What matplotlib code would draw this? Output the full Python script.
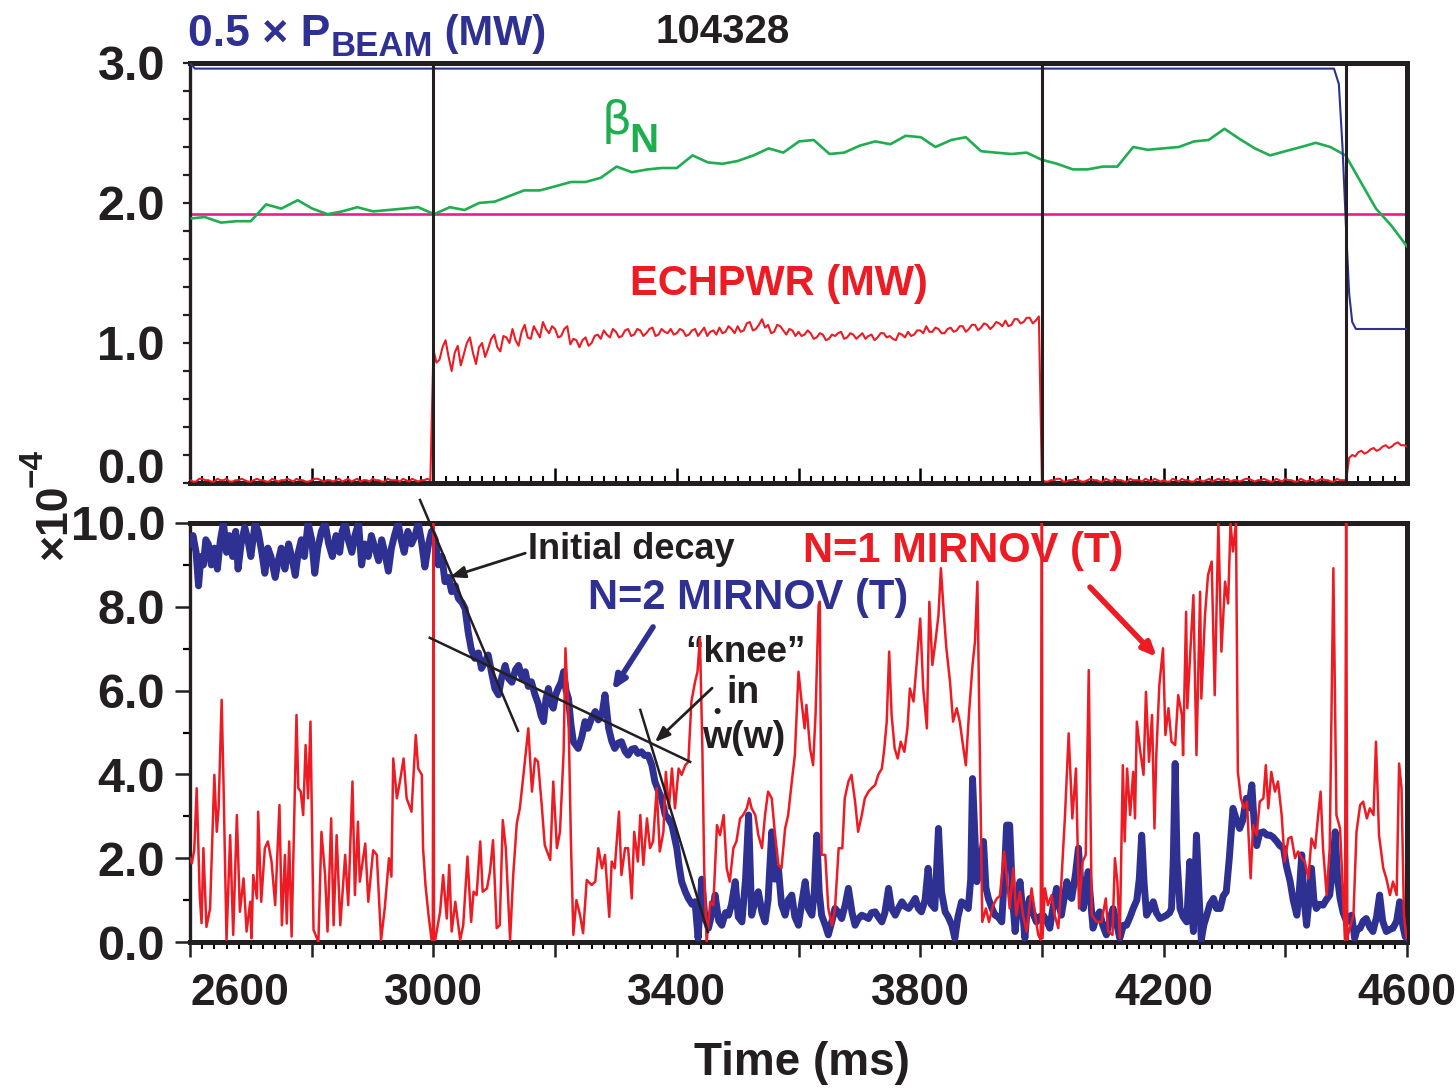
import os
import numpy as np
import matplotlib
matplotlib.use("Agg")
import matplotlib.pyplot as plt
from matplotlib import font_manager as fm
from matplotlib.font_manager import FontProperties
from matplotlib.ticker import MultipleLocator, FuncFormatter


def pick_font(prefs):
    files = [f.fname for f in fm.fontManager.ttflist]
    for pat in prefs:
        for fn in files:
            base = os.path.basename(fn).lower().replace('-', '').replace('_', '')
            if base.startswith(pat):
                return fn
    return None


BOLD_PATH = pick_font(['liberationsansnarrowbold.', 'liberationsansbold.',
                       'arimobold.', 'dejavusanscondensedbold.', 'dejavusansbold.'])


def fp(size):
    if BOLD_PATH:
        return FontProperties(fname=BOLD_PATH, size=size)
    return FontProperties(family='DejaVu Sans', weight='bold', size=size)


BLUE = '#2e3192'
GREEN = '#1fae4f'
RED = '#ed1c24'
MAGENTA = '#ec1c8c'
BLACK = '#231f20'

# ---------------- top panel data ----------------
beam_t = [2600, 2608, 4480, 4488, 4494, 4500, 4505, 4510, 4516, 4600]
beam_v = [3.0, 2.96, 2.96, 2.85, 2.4, 1.8, 1.35, 1.15, 1.10, 1.10]

betan_t = [2603, 2624, 2651, 2676, 2700, 2725, 2750, 2777, 2801, 2826, 2850, 2875,
           2901, 2926, 2951, 2975, 3001, 3027, 3051, 3075, 3101, 3125, 3149, 3175,
           3201, 3226, 3250, 3275, 3301, 3326, 3352, 3375, 3400, 3426, 3451, 3475,
           3500, 3526, 3551, 3575, 3601, 3625, 3651, 3675, 3701, 3726, 3751, 3776,
           3801, 3825, 3851, 3875, 3900, 3924, 3950, 3975, 3999, 4025, 4051, 4075,
           4100, 4124, 4150, 4174, 4199, 4225, 4250, 4274, 4300, 4324, 4350, 4375,
           4400, 4426, 4450, 4474, 4499, 4524, 4549, 4574, 4600]
betan_v = [1.89, 1.90, 1.86, 1.87, 1.87, 1.99, 1.96, 2.02, 1.96, 1.92, 1.94, 1.97,
           1.94, 1.95, 1.96, 1.97, 1.92, 1.97, 1.95, 2.00, 2.01, 2.05, 2.09, 2.09,
           2.12, 2.15, 2.15, 2.18, 2.26, 2.22, 2.24, 2.25, 2.25, 2.34, 2.29, 2.28,
           2.30, 2.34, 2.39, 2.36, 2.44, 2.45, 2.35, 2.36, 2.41, 2.44, 2.42, 2.48,
           2.47, 2.40, 2.45, 2.47, 2.37, 2.36, 2.35, 2.36, 2.31, 2.28, 2.24, 2.24,
           2.26, 2.26, 2.40, 2.38, 2.39, 2.40, 2.44, 2.45, 2.53, 2.46, 2.39, 2.34,
           2.37, 2.40, 2.43, 2.40, 2.34, 2.15, 1.96, 1.84, 1.69]

betan_ref = 1.92
event_times = [3000, 4000, 4500]

# ECH power sampled every 10 ms (2600..4600) plus the in-between 5 ms samples
ech_v = [0.02, 0.01, 0.03, 0.02, 0.01, 0.02, 0.03, 0.01, 0.02, 0.02,
         0.01, 0.03, 0.02, 0.01, 0.02, 0.02, 0.03, 0.01, 0.02, 0.01,
         0.02, 0.03, 0.01, 0.02, 0.02, 0.01, 0.03, 0.02, 0.01, 0.02,
         0.03, 0.02, 0.01, 0.02, 0.02, 0.03, 0.01, 0.02, 0.02, 0.03,
         0.95, 0.88, 1.02, 0.80, 0.98, 0.92, 1.04, 0.85, 1.00, 0.96,
         1.06, 0.94, 1.04, 1.10, 0.98, 1.13, 1.03, 1.08, 1.15, 1.07,
         1.10, 1.05, 1.12, 1.03, 0.97, 1.04, 1.00, 1.06, 1.09, 1.04,
         1.08, 1.05, 1.10, 1.06, 1.09, 1.07, 1.11, 1.06, 1.08, 1.10,
         1.07, 1.09, 1.06, 1.10, 1.08, 1.05, 1.09, 1.11, 1.08, 1.10,
         1.12, 1.09, 1.15, 1.10, 1.17, 1.13, 1.08, 1.12, 1.06, 1.09,
         1.08, 1.06, 1.07, 1.04, 1.06, 1.03, 1.05, 1.08, 1.04, 1.06,
         1.05, 1.03, 1.06, 1.04, 1.07, 1.05, 1.02, 1.06, 1.08, 1.06,
         1.09, 1.12, 1.08, 1.10, 1.07, 1.11, 1.09, 1.12, 1.10, 1.13,
         1.11, 1.13, 1.12, 1.14, 1.16, 1.13, 1.17, 1.15, 1.18, 1.16,
         0.02, 0.01, 0.02, 0.03, 0.01, 0.02, 0.02, 0.01, 0.03, 0.02,
         0.01, 0.02, 0.03, 0.02, 0.01, 0.02, 0.02, 0.03, 0.01, 0.02,
         0.02, 0.01, 0.02, 0.03, 0.02, 0.01, 0.02, 0.02, 0.01, 0.03,
         0.02, 0.01, 0.02, 0.02, 0.03, 0.01, 0.02, 0.02, 0.01, 0.02,
         0.03, 0.02, 0.01, 0.02, 0.02, 0.01, 0.03, 0.02, 0.01, 0.02,
         0.02, 0.20, 0.22, 0.21, 0.24, 0.23, 0.26, 0.25, 0.28, 0.27, 0.26]
ech_mid_v = [0.01, 0.03, 0.02, 0.01, 0.03, 0.02, 0.01, 0.02, 0.03, 0.01,
             0.02, 0.02, 0.01, 0.03, 0.01, 0.02, 0.02, 0.03, 0.02, 0.01,
             0.03, 0.02, 0.02, 0.01, 0.03, 0.02, 0.01, 0.03, 0.02, 0.01,
             0.02, 0.01, 0.03, 0.02, 0.01, 0.02, 0.03, 0.01, 0.02, 0.02,
             0.86, 0.97, 0.90, 0.93, 0.84, 1.00, 0.93, 0.97, 0.90, 1.03,
             0.97, 1.05, 1.00, 1.02, 1.08, 1.04, 1.12, 1.04, 1.10, 1.12,
             1.04, 1.10, 0.99, 1.02, 1.02, 0.98, 1.05, 1.03, 1.06, 1.10,
             1.04, 1.09, 1.05, 1.10, 1.05, 1.10, 1.05, 1.10, 1.07, 1.06,
             1.10, 1.05, 1.09, 1.05, 1.11, 1.08, 1.06, 1.07, 1.12, 1.07,
             1.08, 1.14, 1.09, 1.13, 1.11, 1.07, 1.13, 1.09, 1.10, 1.05,
             1.05, 1.09, 1.03, 1.07, 1.02, 1.06, 1.07, 1.03, 1.07, 1.03,
             1.07, 1.05, 1.02, 1.07, 1.04, 1.03, 1.07, 1.04, 1.05, 1.09,
             1.07, 1.08, 1.11, 1.07, 1.10, 1.08, 1.12, 1.08, 1.13, 1.09,
             1.14, 1.10, 1.15, 1.12, 1.12, 1.17, 1.14, 1.18, 1.14, 1.19,
             0.01, 0.02, 0.03, 0.01, 0.02, 0.03, 0.01, 0.02, 0.02, 0.01,
             0.03, 0.01, 0.02, 0.01, 0.03, 0.02, 0.01, 0.02, 0.03, 0.01,
             0.01, 0.03, 0.01, 0.02, 0.01, 0.03, 0.01, 0.03, 0.02, 0.02,
             0.03, 0.02, 0.01, 0.03, 0.02, 0.02, 0.03, 0.01, 0.03, 0.01,
             0.02, 0.01, 0.03, 0.01, 0.03, 0.02, 0.02, 0.01, 0.03, 0.02,
             0.18, 0.19, 0.23, 0.22, 0.25, 0.24, 0.27, 0.26, 0.29, 0.27]

# ---------------- bottom panel data (x 1e-4 T) ----------------
n2_t = [2600, 2605, 2610, 2614, 2618, 2622, 2626, 2630, 2635, 2640, 2645, 2650, 2655,
        2660, 2665, 2670, 2675, 2679, 2684, 2690, 2695, 2700, 2707, 2712, 2718, 2723,
        2728, 2733, 2740, 2745, 2750, 2756, 2762, 2767, 2773, 2778, 2783, 2788, 2794,
        2800, 2805, 2810, 2816, 2822, 2828, 2834, 2840, 2846, 2850, 2855, 2860, 2866,
        2871, 2877, 2882, 2887, 2893, 2898, 2904, 2910, 2915, 2920, 2926, 2931, 2936,
        2942, 2947, 2952, 2958, 2964, 2970, 2975, 2980, 2986, 2992, 2997,
        3003, 3008, 3014, 3019, 3025, 3030, 3036, 3041, 3047, 3052, 3057, 3062, 3068,
        3074, 3079, 3085, 3090, 3096, 3101, 3107, 3112, 3118, 3123, 3129, 3135, 3140,
        3146, 3151, 3156, 3161, 3167, 3172, 3177, 3181, 3185, 3189, 3193, 3197, 3201,
        3205, 3210, 3214, 3218, 3222, 3226, 3230, 3234, 3238, 3244, 3249, 3254, 3260,
        3266, 3271, 3277, 3282, 3288, 3293, 3298, 3304, 3309, 3315, 3320, 3326, 3331,
        3336, 3342, 3347, 3353, 3359, 3364, 3370, 3375, 3381, 3386, 3392, 3400, 3404,
        3408, 3414, 3419, 3425, 3430, 3435, 3441, 3446, 3452, 3458, 3463, 3469, 3474,
        3480, 3485, 3490, 3496, 3501, 3507, 3513, 3518, 3523, 3529, 3534, 3540, 3545,
        3550, 3556, 3561, 3567, 3572, 3578, 3583, 3589, 3594, 3600, 3605, 3611, 3616,
        3622, 3626, 3630, 3634, 3638, 3644, 3649, 3655, 3660, 3666, 3671, 3677, 3682,
        3688, 3693, 3698, 3704, 3710, 3715, 3720, 3726, 3731, 3737, 3742, 3748, 3753,
        3759, 3764, 3770, 3775, 3781, 3786, 3792, 3797, 3802, 3808, 3813, 3818, 3824,
        3830, 3835, 3841, 3846, 3852, 3857, 3862, 3868, 3874, 3879, 3883, 3886, 3890,
        3893, 3898, 3904, 3908, 3912, 3918, 3923, 3928, 3934, 3938, 3942, 3947, 3952,
        3956, 3960, 3964, 3968, 3972, 3976, 3980, 3985, 3991, 3996, 4002, 4008, 4013,
        4018, 4024, 4028, 4032, 4036, 4041, 4045, 4049, 4055, 4060, 4064, 4068, 4072,
        4076, 4080, 4084, 4090, 4095, 4100, 4106, 4111, 4117, 4122, 4128, 4134, 4139,
        4145, 4150, 4156, 4160, 4164, 4168, 4172, 4178, 4183, 4188, 4194, 4200, 4205,
        4210, 4213, 4216, 4219, 4222, 4227, 4232, 4238, 4243, 4246, 4249, 4254, 4258,
        4262, 4266, 4271, 4276, 4282, 4287, 4293, 4298, 4303, 4308, 4314, 4320, 4325,
        4330, 4336, 4340, 4345, 4349, 4353, 4358, 4364, 4370, 4375, 4380, 4386, 4391,
        4397, 4402, 4408, 4413, 4419, 4423, 4427, 4431, 4435, 4439, 4443, 4447, 4451,
        4456, 4462, 4467, 4473, 4478, 4482, 4486, 4490, 4495, 4501, 4505, 4509, 4514,
        4518, 4523, 4528, 4533, 4539, 4544, 4550, 4555, 4560, 4566, 4572, 4577, 4583,
        4588, 4593, 4597, 4600]
n2_v = [9.5, 9.7, 9.3, 8.5, 9.2, 9.0, 9.6, 9.5, 9.0, 9.4, 8.9, 9.6, 10.0,
        9.3, 9.7, 9.2, 9.8, 8.9, 9.5, 9.9, 9.6, 9.2, 10.0, 9.8, 9.3, 8.8,
        9.4, 9.2, 8.7, 9.1, 9.4, 8.9, 9.5, 9.2, 8.75, 9.3, 9.6, 9.2, 10.0,
        9.6, 8.8, 9.4, 9.8, 10.0, 9.5, 9.2, 9.7, 9.3, 9.8, 10.0, 9.6, 9.3,
        9.7, 10.0, 9.0, 9.5, 9.2, 9.7, 9.4, 9.1, 9.6, 9.3, 8.85, 9.4, 9.7,
        10.0, 9.6, 9.3, 9.8, 9.5, 9.7, 10.0, 9.6, 8.95, 9.5, 9.8,
        9.6, 9.0, 9.2, 8.6, 8.7, 8.36, 8.5, 8.2, 8.1, 7.96, 7.41, 7.0, 6.77,
        6.9, 6.53, 6.7, 6.85, 6.4, 6.05, 5.9, 6.3, 6.6, 6.3, 6.2, 6.5, 6.6,
        6.3, 6.45, 6.1, 6.21, 5.9, 5.7, 5.4, 5.26, 5.8, 6.05, 5.7, 5.58, 5.9,
        6.05, 6.2, 6.45, 6.0, 5.81, 5.2, 4.78, 4.7, 4.62, 4.9, 5.26, 5.1, 5.34,
        5.5, 5.3, 5.42, 5.9, 5.1, 4.8, 4.62, 4.75, 4.78, 4.55, 4.46, 4.6, 4.62,
        4.5, 4.54, 4.45, 4.46, 4.22, 3.83, 3.6, 3.43, 3.03, 2.95, 2.79, 2.24, 1.8,
        1.44, 1.2, 1.04, 0.9, 0.96, 0.09, 1.5, 0.6, 0.33, 0.7, 1.12, 0.5, 0.40,
        0.7, 0.64, 0.9, 1.44, 0.6, 0.48, 1.5, 3.03, 0.64, 1.0, 1.2, 0.7, 0.48,
        1.0, 2.63, 1.5, 1.76, 0.9, 0.64, 1.0, 1.12, 0.6, 0.40, 0.9, 1.44, 0.8,
        0.64, 1.2, 2.55, 1.2, 0.64, 0.4, 0.17, 0.5, 0.80, 0.7, 0.56, 0.9, 1.28,
        0.7, 0.40, 0.55, 0.64, 0.6, 0.56, 0.7, 0.72, 0.6, 0.48, 0.7, 1.28, 0.8,
        0.64, 0.8, 0.96, 0.85, 0.80, 0.9, 1.04, 0.8, 0.72, 1.0, 1.76, 0.9, 0.80,
        2.71, 1.2, 0.72, 0.6, 0.40, 0.09, 0.6, 0.96, 0.9, 0.80, 1.5, 3.9, 2.5,
        1.44, 1.8, 2.40, 1.3, 1.04, 0.8, 0.64, 0.6, 0.48, 1.5, 2.79, 2.79, 1.0,
        0.25, 0.9, 1.44, 0.8, 0.09, 0.8, 1.04, 0.7, 0.48, 0.6, 0.64, 0.5, 0.33,
        0.8, 1.28, 0.9, 0.64, 1.0, 1.44, 1.1, 1.04, 1.6, 2.24, 1.4, 0.80, 1.2,
        1.68, 1.0, 0.33, 0.6, 0.72, 0.4, 0.17, 0.5, 0.80, 0.5, 0.09, 0.4, 0.40,
        0.6, 0.80, 1.0, 1.5, 2.55, 1.4, 0.64, 0.8, 0.96, 0.7, 0.56, 0.6, 0.64,
        0.7, 0.80, 2.0, 4.26, 2.0, 0.80, 0.6, 0.48, 1.92, 0.8, 0.25, 2.55, 1.2,
        0.05, 0.4, 0.64, 0.9, 1.04, 0.8, 0.80, 1.1, 1.2, 2.0, 3.19, 2.9, 2.71,
        2.9, 3.43, 3.2, 3.75, 2.8, 2.3, 2.6, 2.63, 2.55, 2.55, 2.5, 2.40, 2.3,
        2.24, 1.8, 1.44, 1.0, 0.64, 1.2, 2.08, 1.0, 0.40, 1.0, 1.76, 1.0, 0.80,
        0.9, 0.88, 1.0, 1.12, 1.8, 2.63, 1.5, 1.04, 0.7, 0.48, 0.6, 0.64, 0.09,
        0.3, 0.33, 0.5, 0.56, 0.35, 0.25, 0.6, 1.12, 0.5, 0.25, 0.3, 0.33, 0.5,
        0.96, 0.4, 0.13, 0.09]

n1_t = [2600, 2603, 2607, 2611, 2616, 2619, 2622, 2627, 2633, 2640, 2644, 2647, 2652,
        2655, 2660, 2666, 2671, 2677, 2682, 2688, 2693, 2699, 2701, 2704, 2710, 2712,
        2717, 2723, 2728, 2734, 2740, 2747, 2751, 2756, 2759, 2763, 2767, 2775, 2778,
        2782, 2786, 2790, 2794, 2798, 2803, 2811, 2816, 2822, 2826, 2832, 2836, 2841,
        2847, 2855, 2860, 2867, 2871, 2876, 2879, 2888, 2893, 2901, 2907, 2914, 2920,
        2927, 2931, 2934, 2940, 2945, 2951, 2956, 2964, 2971, 2975, 2981, 2983, 2987,
        2992, 2997, 2999, 3000, 3001, 3003, 3011, 3016, 3022, 3026, 3030, 3036, 3044,
        3049, 3056, 3062, 3066, 3071, 3077, 3081, 3088, 3093, 3098, 3104, 3109, 3114,
        3119, 3126, 3131, 3137, 3142, 3148, 3156, 3162, 3167, 3172, 3178, 3183, 3192,
        3197, 3203, 3208, 3214, 3217, 3222, 3226, 3230, 3235, 3241, 3246, 3252, 3260,
        3266, 3271, 3277, 3282, 3289, 3293, 3298, 3305, 3309, 3315, 3320, 3326, 3330,
        3336, 3340, 3345, 3351, 3356, 3361, 3367, 3372, 3378, 3382, 3387, 3392, 3397,
        3403, 3408, 3414, 3419, 3424, 3430, 3434, 3438, 3442, 3445, 3449, 3455, 3460,
        3466, 3471, 3477, 3482, 3487, 3493, 3498, 3504, 3509, 3515, 3519, 3523, 3529,
        3534, 3540, 3545, 3550, 3556, 3561, 3567, 3572, 3578, 3583, 3589, 3594, 3600,
        3605, 3610, 3613, 3619, 3624, 3628, 3633, 3635, 3638, 3644, 3649, 3655, 3660,
        3666, 3672, 3676, 3682, 3687, 3693, 3698, 3704, 3709, 3715, 3720, 3726, 3731,
        3737, 3741, 3745, 3749, 3753, 3758, 3763, 3768, 3774, 3779, 3783, 3789, 3794,
        3800, 3805, 3811, 3815, 3820, 3825, 3830, 3834, 3839, 3843, 3849, 3854, 3860,
        3865, 3871, 3875, 3880, 3886, 3890, 3894, 3898, 3902, 3908, 3913, 3920, 3926,
        3931, 3938, 3943, 3947, 3953, 3958, 3964, 3969, 3975, 3983, 3989, 3994, 3998,
        4000, 4001, 4005, 4010, 4016, 4021, 4027, 4032, 4038, 4044, 4050, 4056, 4061,
        4067, 4072, 4077, 4082, 4090, 4098, 4105, 4109, 4116, 4120, 4124, 4128, 4133,
        4136, 4140, 4145, 4150, 4153, 4156, 4161, 4167, 4171, 4176, 4181, 4185, 4188,
        4193, 4199, 4203, 4208, 4213, 4219, 4224, 4230, 4232, 4237, 4239, 4243, 4249,
        4254, 4260, 4262, 4268, 4273, 4279, 4284, 4290, 4295, 4301, 4306, 4310, 4314,
        4319, 4322, 4327, 4332, 4337, 4343, 4347, 4353, 4358, 4364, 4368, 4372, 4377,
        4383, 4388, 4394, 4399, 4405, 4410, 4416, 4421, 4427, 4432, 4438, 4443, 4449,
        4454, 4458, 4462, 4468, 4473, 4479, 4484, 4490, 4495, 4498, 4500, 4502, 4503,
        4512, 4517, 4523, 4528, 4534, 4539, 4545, 4549, 4554, 4561, 4566, 4572, 4577,
        4583, 4587, 4591, 4595, 4599]
n1_v = [2.0, 1.88, 2.2, 3.67, 1.12, 0.45, 2.24, 0.36, 0.8, 3.99, 2.63, 3.19, 5.78,
        3.83, 0.05, 2.55, 0.17, 3.03, 0.72, 1.52, 0.25, 0.96, 0.09, 1.6, 1.04, 3.11,
        0.96, 2.24, 2.40, 1.92, 0.88, 3.27, 0.40, 2.08, 0.44, 2.40, 0.13, 5.42, 3.67,
        3.59, 3.03, 4.70, 3.43, 5.26, 0.29, 0.0, 2.63, 1.60, 0.25, 2.95, 0.40, 2.55,
        0.40, 2.08, 0.88, 3.83, 1.12, 2.87, 1.44, 2.35, 0.96, 2.19, 2.08, 0.05, 0.80,
        2.00, 1.56, 4.38, 3.43, 3.83, 4.38, 3.43, 3.11, 4.94, 4.14, 3.99, 2.24, 1.36,
        0.64, 0.05, 0.05, 10.0, 0.05, 0.05, 0.72, 1.60, 0.56, 1.84, 0.25, 0.96, 0.05,
        0.40, 2.04, 0.48, 1.20, 1.12, 2.40, 1.20, 1.28, 1.68, 2.43, 0.33, 0.40, 2.91,
        2.24, 0.05, 1.56, 2.83, 3.19, 3.99, 5.10, 3.59, 4.38, 4.30, 3.27, 2.31, 1.96,
        3.83, 2.24, 2.63, 4.54, 7.01, 5.42, 2.40, 0.17, 1.00, 0.64, 0.21, 1.48, 1.36,
        1.44, 2.24, 1.76, 2.08, 0.60, 1.92, 1.76, 3.11, 1.60, 2.24, 2.24, 1.04, 2.63,
        1.92, 3.03, 1.84, 2.95, 2.24, 2.40, 3.67, 2.16, 2.63, 4.06, 3.19, 4.14, 3.19,
        4.14, 3.99, 4.22, 4.30, 5.74, 6.21, 6.45, 7.25, 4.62, 1.76, 0.0, 0.96, 0.88,
        2.79, 2.55, 3.03, 1.76, 1.44, 2.24, 2.40, 2.95, 3.03, 3.19, 3.43, 3.19, 3.03,
        2.55, 2.24, 3.03, 3.59, 3.43, 2.63, 1.84, 1.76, 2.71, 3.03, 3.83, 4.46, 6.45,
        5.74, 5.10, 5.66, 4.62, 4.22, 5.42, 8.04, 8.12, 2.08, 2.08, 0.80, 0.40, 0.80,
        2.24, 2.24, 3.43, 3.83, 3.99, 3.35, 2.63, 3.03, 3.43, 3.59, 3.67, 3.75, 3.99,
        4.14, 4.62, 5.26, 6.93, 5.42, 4.62, 4.38, 4.78, 4.54, 5.10, 6.05, 5.74, 6.61,
        7.72, 6.05, 5.10, 8.12, 6.61, 7.17, 7.80, 8.92, 7.80, 7.01, 6.21, 5.26, 5.58,
        5.26, 4.62, 4.22, 5.42, 6.61, 7.17, 8.60, 4.62, 0.48, 0.80, 0.48, 0.88, 1.04,
        1.10, 2.16, 1.44, 0.80, 1.76, 0.64, 1.20, 0.64, 0.25, 1.28, 0.64, 0.17, 0.05,
        10.0, 0.09, 1.28, 0.88, 1.12, 0.64, 0.33, 1.44, 3.03, 4.98, 2.95, 4.14, 0.80,
        1.92, 2.08, 6.49, 0.64, 0.48, 0.48, 1.04, 0.25, 0.17, 2.00, 1.44, 0.09, 4.22,
        2.40, 4.14, 3.03, 4.06, 2.95, 5.26, 4.62, 3.99, 5.97, 4.30, 5.42, 2.71, 4.46,
        6.13, 7.01, 4.94, 5.58, 4.78, 4.70, 5.89, 5.42, 4.46, 7.88, 5.58, 6.69, 8.28,
        4.46, 8.36, 5.81, 7.80, 8.76, 9.08, 5.89, 10.0, 6.93, 8.60, 8.08, 10.0, 9.32,
        10.0, 4.06, 3.43, 3.19, 3.35, 1.52, 2.79, 2.55, 3.35, 3.43, 4.22, 3.19, 4.06,
        3.59, 3.83, 3.03, 1.92, 2.47, 2.51, 2.00, 2.16, 2.00, 1.92, 1.52, 2.47, 2.24,
        3.03, 3.59, 2.24, 1.12, 2.24, 8.92, 3.03, 2.71, 1.04, 0.05, 10.0, 0.05, 0.17,
        0.64, 2.63, 3.27, 3.35, 2.95, 3.19, 3.03, 4.78, 2.55, 1.76, 1.52, 1.12, 1.44,
        1.12, 4.26, 3.67, 0.64, 0.09]

# straight-line fits drawn on the N=2 trace (time ms, amplitude)
fit_initial_t = [2978, 3139]
fit_initial_v = [10.55, 5.04]
fit_slow_t = [2994, 3422]
fit_slow_v = [7.26, 4.30]
fit_final_t = [3340, 3451]
fit_final_v = [5.54, 0.24]

# interleave the 10 ms and mid samples of ECH power
ech_t = np.arange(2600, 4601, 5)
ech_full = np.empty(len(ech_t))
ech_full[0::2] = ech_v
ech_full[1::2] = ech_mid_v

# ---------------- figure ----------------
W, H = 1456, 1092
fig = plt.figure(figsize=(W / 100, H / 100), dpi=100)
L, R = 190, 1407
ax1 = fig.add_axes([L / W, 1 - 483 / H, (R - L) / W, (483 - 63) / H])
ax2 = fig.add_axes([L / W, 1 - 942 / H, (R - L) / W, (942 - 523) / H])

# top panel
ax1.plot(ech_t, ech_full, color=RED, lw=1.5, zorder=3)
ax1.plot(betan_t, betan_v, color=GREEN, lw=1.9, zorder=4)
ax1.axhline(betan_ref, color=MAGENTA, lw=1.9, zorder=2)
ax1.plot(beam_t, beam_v, color=BLUE, lw=1.5, zorder=4)
for tv in event_times:
    ax1.axvline(tv, color=BLACK, lw=2.2, zorder=5)
ax1.set_xlim(2600, 4600)
ax1.set_ylim(0, 3.0)

# bottom panel
ax2.plot(n2_t, n2_v, color=BLUE, lw=5.0, zorder=3)
ax2.plot(n1_t, n1_v, color=RED, lw=1.8, zorder=4)
for ft, fv in ((fit_initial_t, fit_initial_v), (fit_slow_t, fit_slow_v),
               (fit_final_t, fit_final_v)):
    ax2.plot(ft, fv, color=BLACK, lw=1.8, zorder=6, clip_on=False)
ax2.set_xlim(2600, 4600)
ax2.set_ylim(0, 10.0)

for ax in (ax1, ax2):
    for s in ax.spines.values():
        s.set_linewidth(3.6)
        s.set_color(BLACK)
    ax.spines['left'].set_linewidth(2.4)
    ax.xaxis.set_major_locator(MultipleLocator(200))
    ax.xaxis.set_minor_locator(MultipleLocator(20))

yfmt = FuncFormatter(lambda v, p: f"{v:.1f}")
ax1.yaxis.set_major_locator(MultipleLocator(1.0))
ax1.yaxis.set_minor_locator(MultipleLocator(0.2))
ax1.yaxis.set_major_formatter(yfmt)
ax2.yaxis.set_major_locator(MultipleLocator(2.0))
ax2.yaxis.set_minor_locator(MultipleLocator(1.0))
ax2.yaxis.set_major_formatter(yfmt)
ax2.xaxis.set_major_formatter(FuncFormatter(
    lambda v, p: f"{int(round(v))}" if (int(round(v)) - 2600) % 400 == 0 else ""))

ax1.tick_params(axis='x', which='major', direction='in', length=11, width=1.8,
                labelbottom=False, bottom=True, top=False)
ax1.tick_params(axis='x', which='minor', direction='in', length=5, width=1.5,
                bottom=True, top=False)
ax1.tick_params(axis='y', which='both', direction='out', length=5, width=1.6,
                pad=13, colors=BLACK)
ax2.tick_params(axis='y', which='major', direction='out', length=11, width=1.8,
                pad=7, colors=BLACK)
ax2.tick_params(axis='y', which='minor', direction='out', length=5, width=1.6)
ax2.tick_params(axis='x', which='major', direction='out', length=11, width=1.8,
                pad=11, colors=BLACK)
ax2.tick_params(axis='x', which='minor', direction='out', length=5, width=1.5)

for ax in (ax1, ax2):
    for lab in ax.get_yticklabels():
        lab.set_fontproperties(fp(35))
    for lab in ax.get_xticklabels():
        lab.set_fontproperties(fp(32))

fig.canvas.draw()
# the lowest label of the upper panel sits slightly above its tick,
# and the first time label starts at the axis corner
for lab in ax1.get_yticklabels():
    if lab.get_text() == '0.0':
        lab.set_verticalalignment('baseline')
for lab in ax2.get_xticklabels():
    if lab.get_text() == '2600':
        lab.set_horizontalalignment('left')

# ---------------- text ----------------
t1 = fig.text(188 / W, 1 - 34 / H, "0.5 × P", color=BLUE, fontproperties=fp(32),
              ha='left', va='center')
t2 = ax1.annotate("BEAM", xy=(1, 0), xycoords=t1, xytext=(0, -6),
                  textcoords='offset points', color=BLUE, fontproperties=fp(25),
                  ha='left', va='bottom', annotation_clip=False)
ax1.annotate(" (MW)", xy=(1, 0), xycoords=t2, xytext=(0, 6),
             textcoords='offset points', color=BLUE, fontproperties=fp(30),
             ha='left', va='bottom', annotation_clip=False)
fig.text(723 / W, 1 - 32 / H, "104328", color=BLACK, fontproperties=fp(29),
         ha='center', va='center')

ax1.text(3302, 2.58, "β", color=GREEN, fontsize=34, fontweight='normal',
         ha='center', va='center', family=['DejaVu Sans'])
ax1.text(3346, 2.44, "N", color=GREEN, fontproperties=fp(29),
         ha='center', va='center')
ax1.text(3568, 1.42, "ECHPWR (MW)", color=RED, fontproperties=fp(30),
         ha='center', va='center')

ax2.text(3155, 9.36, "Initial decay", color=BLACK, fontproperties=fp(26),
         ha='left', va='center')
ax2.text(3254, 8.21, "N=2 MIRNOV (T)", color=BLUE, fontproperties=fp(30),
         ha='left', va='center')
ax2.text(3607, 9.33, "N=1 MIRNOV (T)", color=RED, fontproperties=fp(30),
         ha='left', va='center')
ax2.text(3512, 6.92, "“knee”", color=BLACK, fontproperties=fp(26.5),
         ha='center', va='center')
ax2.text(3509, 5.94, "in", color=BLACK, fontproperties=fp(27),
         ha='center', va='center')
ax2.text(3510, 4.87, "w(w)", color=BLACK, fontproperties=fp(27),
         ha='center', va='center')
ax2.text(3466, 5.47, "•", color=BLACK, fontproperties=fp(15),
         ha='center', va='center')

arrow_black = dict(arrowstyle='-|>,head_length=0.9,head_width=0.35',
                   color=BLACK, lw=2.0, shrinkA=0, shrinkB=0)
ax2.annotate("", xy=(3027, 8.71), xytext=(3151, 9.28), arrowprops=arrow_black,
             zorder=7)
ax2.annotate("", xy=(3364, 4.77), xytext=(3458, 6.06), arrowprops=arrow_black,
             zorder=7)
ax2.annotate("", xy=(3294, 6.01), xytext=(3361, 7.52),
             arrowprops=dict(arrowstyle='-|>,head_length=0.8,head_width=0.35',
                             color=BLUE, lw=4.0, shrinkA=0, shrinkB=0), zorder=7)
ax2.annotate("", xy=(4189, 6.80), xytext=(4079, 8.47),
             arrowprops=dict(arrowstyle='-|>,head_length=0.8,head_width=0.35',
                             color=RED, lw=4.0, shrinkA=0, shrinkB=0), zorder=7)

fig.text(802 / W, 1 - 1063 / H, "Time (ms)", color=BLACK, fontproperties=fp(33),
         ha='center', va='center')
tx = fig.text(55 / W, 1 - 522 / H, "×10", color=BLACK, fontproperties=fp(32),
              ha='center', va='center', rotation=90)
ax2.annotate("−4", xy=(0, 1), xycoords=tx, xytext=(10, -2),
             textcoords='offset points', color=BLACK, fontproperties=fp(24),
             ha='right', va='bottom', rotation=90, annotation_clip=False)

fig.savefig("out.png", dpi=100)
